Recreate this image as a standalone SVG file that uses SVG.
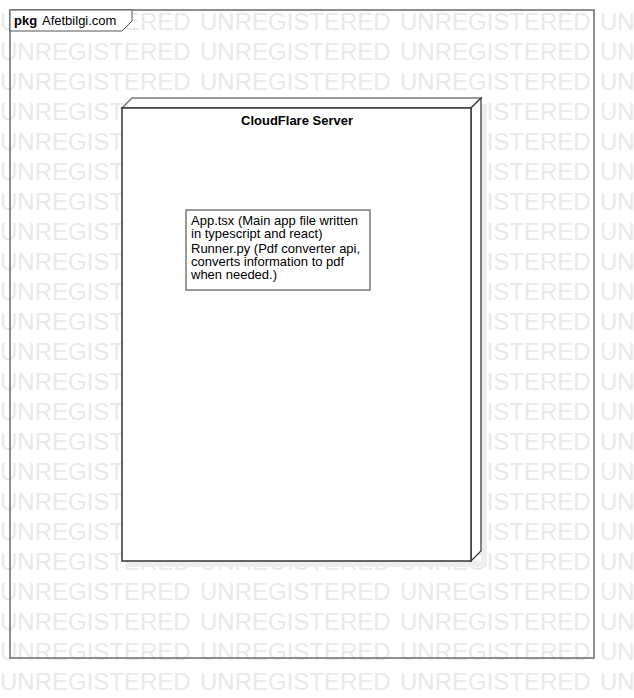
<svg xmlns="http://www.w3.org/2000/svg" width="634" height="698" viewBox="0 0 634 698">
<style>
.wm{font-family:"Liberation Sans",Arial,sans-serif;font-size:24px;fill:#e9e9e9}
.t{font-family:"Liberation Sans",Arial,sans-serif;font-size:13px;fill:#000}
.b{font-weight:bold}
</style>
<defs>
<g id="wmrow">
<text class="wm" x="0">UNREGISTERED</text>
<text class="wm" x="200">UNREGISTERED</text>
<text class="wm" x="400">UNREGISTERED</text>
<text class="wm" x="600">UNREGISTERED</text>
</g>
</defs>
<rect width="634" height="698" fill="#fff"/>
<g id="watermark">
<use href="#wmrow" y="30"/><use href="#wmrow" y="60"/><use href="#wmrow" y="90"/><use href="#wmrow" y="120"/>
<use href="#wmrow" y="150"/><use href="#wmrow" y="180"/><use href="#wmrow" y="210"/><use href="#wmrow" y="240"/>
<use href="#wmrow" y="270"/><use href="#wmrow" y="300"/><use href="#wmrow" y="330"/><use href="#wmrow" y="360"/>
<use href="#wmrow" y="390"/><use href="#wmrow" y="420"/><use href="#wmrow" y="450"/><use href="#wmrow" y="480"/>
<use href="#wmrow" y="510"/><use href="#wmrow" y="540"/><use href="#wmrow" y="570"/><use href="#wmrow" y="600"/>
<use href="#wmrow" y="630"/><use href="#wmrow" y="660"/><use href="#wmrow" y="690"/>
</g>
<g id="pkg">
<rect x="10" y="10" width="584" height="648" fill="none" stroke="#6a6a6a" stroke-width="1.5"/>
<path d="M10 10 H132 V21 L122 31 H10 Z" fill="#fff" stroke="#555" stroke-width="1"/>
<text class="t b" x="14" y="25">pkg</text>
<text class="t" x="42" y="25">Afetbilgi.com</text>
</g>
<g id="node-cloudflare">
<path d="M481 104 H487 V567 H128 V561 H481 Z" fill="#eeeeee"/>
<path d="M122 108 L132 98 H481 L471 108 Z" fill="#fff" stroke="#777" stroke-width="1.5"/>
<path d="M471 108 L481 98 V551 L471 561 Z" fill="#fff" stroke="#333" stroke-width="1.2"/>
<rect x="122" y="108" width="349" height="453" fill="#fff" stroke="#333" stroke-width="1.5"/>
<text class="t b" x="297" y="125" text-anchor="middle">CloudFlare Server</text>
</g>
<g id="node-artifacts">
<rect x="186" y="210" width="184" height="80" fill="#fff" stroke="#777" stroke-width="1.5"/>
<text class="t" x="191" y="224.5">App.tsx (Main app file written</text>
<text class="t" x="191" y="237.5">in typescript and react)</text>
<text class="t" x="191" y="252.5">Runner.py (Pdf converter api,</text>
<text class="t" x="191" y="265.5">converts information to pdf</text>
<text class="t" x="191" y="278.5">when needed.)</text>
</g>
<g id="connectors"/>
</svg>
